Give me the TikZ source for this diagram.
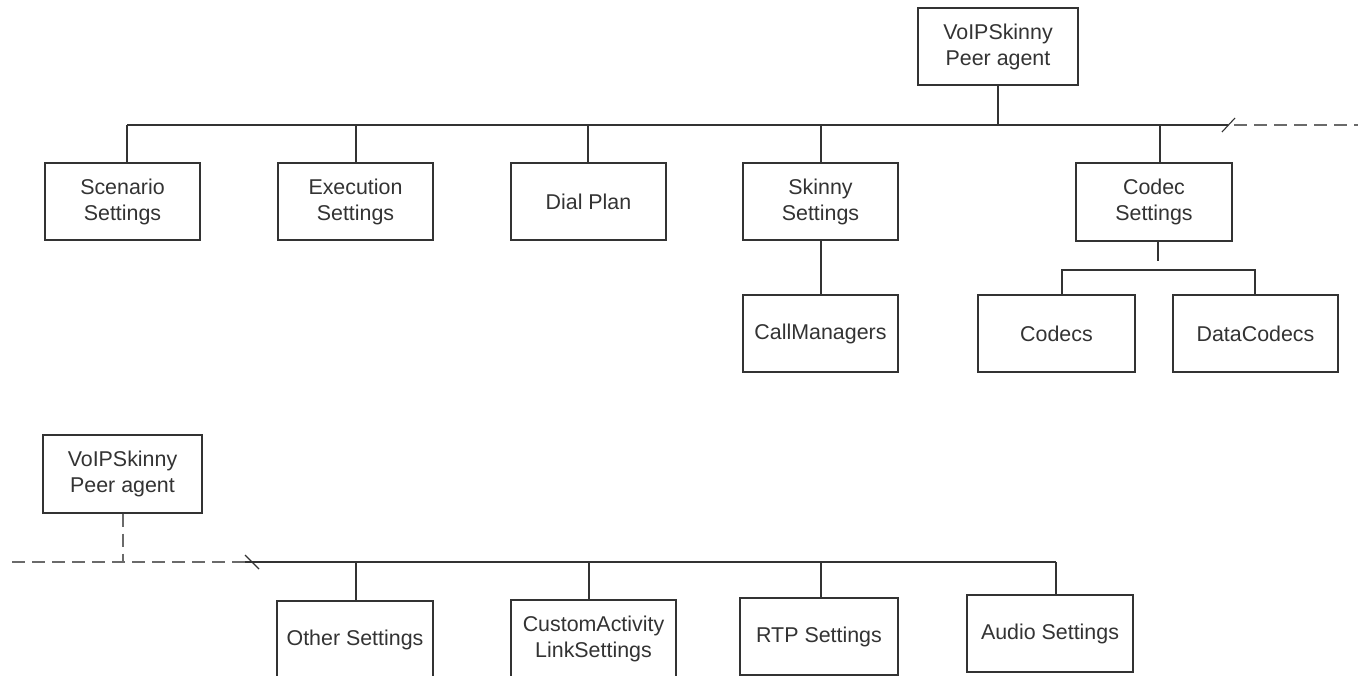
\documentclass[tikz,border=0pt]{standalone}
\usepackage{fontspec}
\setmainfont{Liberation Sans}
\definecolor{ln}{HTML}{333333}
\definecolor{dsh}{HTML}{6A6A6A}
\begin{document}
\begin{tikzpicture}[x=1pt,y=-1pt,
  box/.style={draw=ln,line width=1.4pt,rectangle,inner sep=0pt,text=ln,align=center,
    font=\fontsize{21.4}{26}\selectfont},
  conn/.style={draw=ln,line width=1.5pt},
  dconn/.style={draw=dsh,line width=2pt,dash pattern=on 13pt off 7pt},
  tick/.style={draw=ln,line width=1.1pt}]
\useasboundingbox (0,0) rectangle (1358,675);
\clip (0,0) rectangle (1358,675);
\fill[white] (0,0) rectangle (1358,675);
% top tree
\node[box,minimum width=160pt,minimum height=77pt] (root) at (998,46.5) {VoIPSkinny\\Peer agent};
\node[box,minimum width=155pt,minimum height=77pt] (scen) at (122.5,201.5) {Scenario\\Settings};
\node[box,minimum width=155pt,minimum height=77pt] (exec) at (355.5,201.5) {Execution\\Settings};
\node[box,minimum width=155pt,minimum height=77pt] (dial) at (588.5,201.5) {Dial Plan};
\node[box,minimum width=155pt,minimum height=77pt] (skin) at (820.5,201.5) {Skinny\\Settings};
\node[box,minimum width=156pt,minimum height=78pt] (codec) at (1154,202) {Codec\\Settings};
\node[box,minimum width=155pt,minimum height=77pt] (callm) at (820.5,333.5) {CallManagers};
\node[box,minimum width=157pt,minimum height=77pt] (codecs) at (1056.5,333.5) {Codecs};
\node[box,minimum width=165pt,minimum height=77pt] (dcodecs) at (1255.5,333.5) {DataCodecs};
\coordinate (busL) at (127,125);
\coordinate (busR) at (1228,125);
\coordinate (busEnd) at (1358,125);
\draw[conn] (root.south) -- (root.south |- busL);
\draw[conn] (busL) -- (busR);
\draw[dconn] ([xshift=6pt]busR) -- (busEnd);
\draw[tick] (1222,132) -- (1235,118);
\draw[conn] (busL) -- ([xshift=4.5pt]scen.north);
\draw[conn] (busL -| 356,0) -- ([xshift=0.5pt]exec.north);
\draw[conn] (busL -| 588,0) -- ([xshift=-0.5pt]dial.north);
\draw[conn] (busL -| 821,0) -- ([xshift=0.5pt]skin.north);
\draw[conn] (busL -| 1160,0) -- ([xshift=6pt]codec.north);
\draw[conn] ([xshift=0.5pt]skin.south) -- ([xshift=0.5pt]callm.north);
\coordinate (cstub) at (1158,261);
\draw[conn] ([xshift=4pt]codec.south) -- (cstub);
\coordinate (sbL) at (1062,270);
\coordinate (sbR) at (1255,270);
\draw[conn] ([xshift=5.5pt]codecs.north) -- (sbL) -- (sbR) -- ([xshift=-0.5pt]dcodecs.north);
% bottom tree
\node[box,minimum width=159pt,minimum height=78pt] (root2) at (122.5,474) {VoIPSkinny\\Peer agent};
\node[box,minimum width=156pt,minimum height=77pt] (other) at (355,639.5) {Other Settings};
\node[box,minimum width=165pt,minimum height=77pt] (cust) at (593.5,638.5) {CustomActivity\\LinkSettings};
\node[box,minimum width=158pt,minimum height=77pt] (rtp) at (819,636.5) {RTP Settings};
\node[box,minimum width=166pt,minimum height=77pt] (audio) at (1050,633.5) {Audio Settings};
\coordinate (b2L) at (12,562);
\coordinate (b2M) at (245,562);
\coordinate (b2R) at (1056,562);
\draw[dconn] (b2L) -- (b2M);
\draw[dconn] ([xshift=0.5pt]root2.south) -- ([xshift=0.5pt]root2.south |- b2L);
\draw[conn] (b2M) -- (b2R);
\draw[tick] (245,555) -- (259,569);
\draw[conn] (b2M -| 356,0) -- ([xshift=1pt]other.north);
\draw[conn] (b2M -| 589,0) -- ([xshift=-4.5pt]cust.north);
\draw[conn] (b2M -| 821,0) -- ([xshift=2pt]rtp.north);
\draw[conn] (b2R) -- ([xshift=6pt]audio.north);
\end{tikzpicture}
\end{document}
